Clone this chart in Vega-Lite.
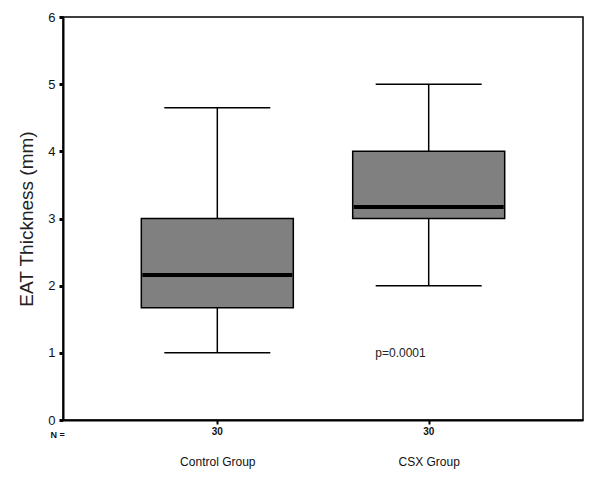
{
  "$schema": "https://vega.github.io/schema/vega-lite/v6.json",
  "autosize": {"type": "none"},
  "padding": {"left": 63, "top": 17, "right": 17, "bottom": 59},
  "width": 520,
  "height": 403,
  "background": "white",
  "config": {
    "font": "Liberation Sans",
    "view": {"stroke": "black", "strokeWidth": 1.5},
    "axis": {"grid": false, "domainColor": "black", "domainWidth": 2, "tickColor": "black", "labelColor": "#111", "titleColor": "#222"}
  },
  "data": {"values": [
    {"group": "Control Group", "min": 1.0, "q1": 1.67, "median": 2.16, "q3": 3.0, "max": 4.65, "n": 30},
    {"group": "CSX Group", "min": 2.0, "q1": 3.0, "median": 3.17, "q3": 4.0, "max": 5.0, "n": 30}
  ]},
  "encoding": {
    "x": {
      "field": "group", "type": "nominal", "sort": null,
      "scale": {"type": "point", "padding": 0.73},
      "axis": {
        "labelAngle": 0, "labelPadding": 32, "labelFontSize": 12, "tickSize": 4, "tickWidth": 2,
        "title": "N =", "titleFontSize": 9, "titleFontWeight": "bold", "titleAnchor": "start",
        "titleX": -13, "titleY": 14, "titleBaseline": "middle", "titleColor": "#111"
      }
    }
  },
  "layer": [
    {
      "mark": {"type": "rule", "color": "black", "strokeWidth": 1.5},
      "encoding": {
        "y": {"field": "min", "type": "quantitative", "scale": {"domain": [0, 6]},
          "axis": {"values": [0,1,2,3,4,5,6], "format": "d", "tickSize": 4, "tickWidth": 3, "labelFontSize": 13, "labelPadding": 4,
            "title": "EAT Thickness (mm)", "titleFontSize": 19, "titleFontWeight": "normal", "titlePadding": 11}},
        "y2": {"field": "max"}
      }
    },
    {
      "mark": {"type": "bar", "width": 152, "fill": "#808080", "stroke": "black", "strokeWidth": 1.5},
      "encoding": {"y": {"field": "q1", "type": "quantitative"}, "y2": {"field": "q3"}}
    },
    {
      "mark": {"type": "tick", "size": 150, "thickness": 4, "color": "black", "opacity": 1},
      "encoding": {"y": {"field": "median", "type": "quantitative"}}
    },
    {
      "mark": {"type": "tick", "size": 106, "thickness": 1.5, "color": "black", "opacity": 1},
      "encoding": {"y": {"field": "min", "type": "quantitative"}}
    },
    {
      "mark": {"type": "tick", "size": 106, "thickness": 1.5, "color": "black", "opacity": 1},
      "encoding": {"y": {"field": "max", "type": "quantitative"}}
    },
    {
      "mark": {"type": "text", "fontSize": 10, "fontWeight": "bold", "color": "#111", "baseline": "middle"},
      "encoding": {"y": {"datum": -0.18}, "text": {"field": "n"}}
    },
    {
      "data": {"values": [{"group": "CSX Group", "y": 1.0, "label": "p=0.0001"}]},
      "mark": {"type": "text", "fontSize": 12, "color": "#222", "align": "right", "baseline": "middle", "dx": -3},
      "encoding": {"y": {"field": "y", "type": "quantitative"}, "text": {"field": "label"}}
    }
  ]
}
